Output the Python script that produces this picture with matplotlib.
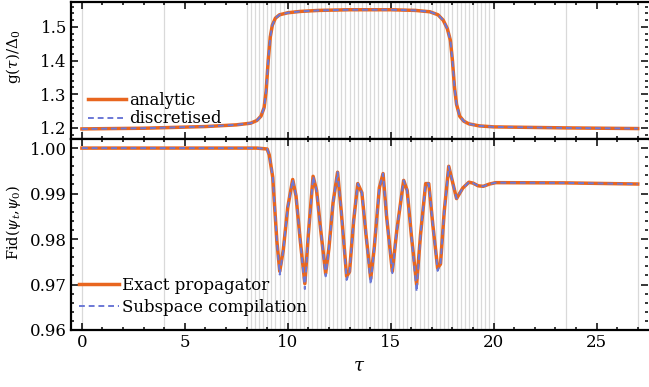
import numpy as np
import matplotlib
matplotlib.use('Agg')
import matplotlib.pyplot as plt
from matplotlib.ticker import MultipleLocator

plt.rcParams['font.family'] = ['DejaVu Serif']
plt.rcParams['mathtext.fontset'] = 'dejavuserif'
plt.rcParams['font.size'] = 12

# coupling g(tau)/Delta_0
tau_g = [0, 3, 6, 7.5, 8.2, 8.5, 8.7, 8.85, 8.95, 9.05, 9.15, 9.25, 9.4, 9.6,
         10.0, 10.6, 11.5, 13, 15, 16.2, 16.9, 17.3, 17.55, 17.75, 17.9, 18.0,
         18.1, 18.2, 18.35, 18.55, 18.8, 19.3, 20.0, 23.5, 27.0]
g_analytic = [1.197, 1.199, 1.204, 1.209, 1.214, 1.222, 1.235, 1.26, 1.31, 1.40,
              1.47, 1.505, 1.526, 1.536, 1.542, 1.546, 1.549, 1.551, 1.551, 1.549,
              1.545, 1.536, 1.52, 1.495, 1.46, 1.40, 1.32, 1.27, 1.235, 1.22,
              1.212, 1.206, 1.203, 1.200, 1.198]
g_discrete = g_analytic

# fidelity
tau_f = [0, 8.5, 9.0, 9.1, 9.27, 9.47, 9.61, 9.78, 10.0, 10.24, 10.4, 10.6, 10.83,
         11.0, 11.23, 11.4, 11.6, 11.84, 12.0, 12.2, 12.42, 12.6, 12.86, 13.0, 13.2,
         13.4, 13.6, 13.8, 14.03, 14.2, 14.45, 14.63, 14.8, 15.08, 15.3, 15.63,
         15.8, 16.0, 16.26, 16.45, 16.7, 16.85, 17.05, 17.28, 17.42, 17.6, 17.82,
         18.2, 18.5, 18.8, 19.0, 19.25, 19.5, 19.8, 20.1, 23.5, 27.0]
fid_exact = [1.0, 1.0, 0.9998, 0.9985, 0.9936, 0.9796, 0.9729, 0.9775, 0.987, 0.9931,
             0.9895, 0.980, 0.9702, 0.981, 0.9938, 0.9907, 0.982, 0.9724, 0.978,
             0.988, 0.9947, 0.986, 0.9718, 0.9728, 0.984, 0.9922, 0.9902, 0.981,
             0.9713, 0.978, 0.9913, 0.9944, 0.985, 0.9729, 0.982, 0.9929, 0.9907,
             0.981, 0.970, 0.981, 0.9922, 0.9922, 0.983, 0.9736, 0.9745, 0.986,
             0.996, 0.9889, 0.9912, 0.9925, 0.9923, 0.9917, 0.9916, 0.9921, 0.9924,
             0.99235, 0.9921]
fid_subspace = [1.0, 1.0, 0.9998, 0.9985, 0.9936, 0.9796, 0.9722, 0.9775, 0.987, 0.9931,
                0.9895, 0.980, 0.9690, 0.981, 0.9938, 0.9907, 0.982, 0.9718, 0.978,
                0.988, 0.9947, 0.986, 0.9710, 0.9728, 0.984, 0.9922, 0.9902, 0.981,
                0.9700, 0.978, 0.9913, 0.9944, 0.985, 0.9725, 0.982, 0.9929, 0.9907,
                0.981, 0.9684, 0.981, 0.9922, 0.9922, 0.983, 0.9730, 0.9745, 0.986,
                0.996, 0.9889, 0.9912, 0.9925, 0.9923, 0.9917, 0.9916, 0.9921, 0.9924,
                0.99235, 0.9921]

grid_x = [0, 4] + list(np.arange(8, 20.01, 0.2)) + [23.5, 27]

orange = '#e8661f'
blue = '#6b78d6'

fig = plt.figure(figsize=(6.49, 3.87), dpi=100)
L, R = 71 / 649, 648 / 649
ax1 = fig.add_axes([L, 1 - 139 / 387, R - L, 137 / 387])
ax2 = fig.add_axes([L, 1 - 330 / 387, R - L, 191 / 387])

for ax in (ax1, ax2):
    for xv in grid_x:
        ax.axvline(xv, color='#d9d9d9', lw=0.9, zorder=0)
    ax.set_xlim(-0.53, 27.5)
    ax.xaxis.set_major_locator(MultipleLocator(5))
    ax.xaxis.set_minor_locator(MultipleLocator(1))
    ax.tick_params(which='both', direction='in', top=True, right=True,
                   labelright=False, width=1.1, pad=3)
    ax.tick_params(which='major', length=5)
    ax.tick_params(which='minor', length=2.5)
    for s in ('left', 'bottom', 'top'):
        ax.spines[s].set_linewidth(1.6)
    ax.spines['right'].set_visible(False)

ax1.plot(tau_g, g_analytic, color=orange, lw=2.5, label='analytic')
ax1.plot(tau_g, g_discrete, color=blue, lw=1.4, ls=(0, (3, 2)), label='discretised')
ax1.set_ylim(1.167, 1.574)
ax1.yaxis.set_major_locator(MultipleLocator(0.1))
ax1.yaxis.set_minor_locator(MultipleLocator(0.02))
ax1.tick_params(labelbottom=False)
ax1.set_ylabel(r'g($\tau$)/$\Delta_0$', fontsize=11)
ax1.yaxis.set_label_coords(-0.083, 0.6)
ax1.legend(loc='lower left', bbox_to_anchor=(0.029, 0.085), frameon=False,
           borderpad=0, borderaxespad=0, handlelength=2.3, handletextpad=0.2,
           labelspacing=0.1)

ax2.plot(tau_f, fid_exact, color=orange, lw=2.5, label='Exact propagator')
ax2.plot(tau_f, fid_subspace, color=blue, lw=1.4, ls=(0, (3, 2)), label='Subspace compilation')
ax2.set_ylim(0.96, 1.002)
ax2.yaxis.set_minor_locator(MultipleLocator(0.002))
ax2.set_yticks([0.96, 0.97, 0.98, 0.99, 1.00])
ax2.set_yticklabels(['0.96', '0.97', '0.98', '0.99', '1.00'])
ax2.set_ylabel(r'Fid($\psi_t$,$\psi_0$)', fontsize=10.5)
ax2.yaxis.set_label_coords(-0.083, 0.565)
ax2.set_xlabel(r'$\tau$', fontsize=13)
ax2.legend(loc='lower left', bbox_to_anchor=(0.014, 0.075), frameon=False,
           borderpad=0, borderaxespad=0, handlelength=2.4, handletextpad=0.2,
           labelspacing=0.3)

fig.savefig('out.png', dpi=100)
